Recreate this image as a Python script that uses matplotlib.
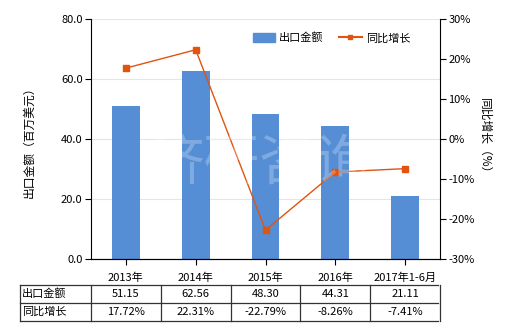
import matplotlib
matplotlib.use("Agg")
import matplotlib.pyplot as plt
from matplotlib.transforms import blended_transform_factory
from matplotlib.lines import Line2D

plt.rcParams['font.family'] = ['Noto Sans CJK SC', 'DejaVu Sans']

categories = ['2013年', '2014年', '2015年', '2016年', '2017年1-6月']
export_values = [51.15, 62.56, 48.30, 44.31, 21.11]
growth_values = [17.72, 22.31, -22.79, -8.26, -7.41]
left_ticks = [0, 20, 40, 60, 80]
right_ticks = [-30, -20, -10, 0, 10, 20, 30]
row_names = ['出口金额', '同比增长']
export_labels = ['51.15', '62.56', '48.30', '44.31', '21.11']
growth_labels = ['17.72%', '22.31%', '-22.79%', '-8.26%', '-7.41%']

bar_color = '#558ED5'
line_color = '#E0540F'

fig = plt.figure(figsize=(5.2, 3.3), dpi=100)
ax = fig.add_axes([91/520, 1-259/330, 349/520, 240/330])
x = list(range(len(categories)))
ax.bar(x, export_values, width=0.4, color=bar_color, zorder=2)
ax.set_xlim(-0.5, len(categories)-0.5)
ax.set_ylim(0, 80)
ax.set_yticks(left_ticks)
ax.set_yticklabels([f'{v:.1f}' for v in left_ticks], fontsize=8)
ax.set_xticks(x)
ax.set_xticklabels(categories, fontsize=8)
ax.grid(axis='y', color='#E6E6E0', linewidth=0.8, zorder=0)
ax.spines['top'].set_visible(False)
ax.spines['right'].set_visible(False)
ax.tick_params(axis='both', length=4, width=0.8, direction='out', pad=2)
ax.tick_params(axis='x', pad=6)
ax.set_ylabel('出口金额（百万美元）', fontsize=8.5, labelpad=18)

ax2 = ax.twinx()
ax2.plot(x, growth_values, color=line_color, linewidth=1.0, marker='s',
         markersize=4.5, zorder=3)
ax2.set_ylim(-30, 30)
ax2.set_yticks(right_ticks)
ax2.set_yticklabels([f'{v}%' for v in right_ticks], fontsize=8)
ax2.spines['top'].set_visible(False)
ax2.spines['left'].set_visible(False)
ax2.tick_params(axis='y', length=4, width=0.8, direction='out', pad=2)
ax2.set_ylabel('同比增长（%）', fontsize=8.5, rotation=-90, labelpad=12)

# watermark
fig.text(0.5, 0.5, '济研咨询', fontsize=40, color='white', alpha=0.25,
         ha='center', va='center', zorder=5)

handles = [plt.Rectangle((0, 0), 1, 1, color=bar_color),
           Line2D([0], [0], color=line_color, marker='s', markersize=3.5, linewidth=1.5)]
ax2.legend(handles, ['出口金额', '同比增长'], loc='upper right', frameon=False,
           fontsize=8, ncol=2, bbox_to_anchor=(0.944, 0.985), handlelength=2.0,
           handleheight=0.95, columnspacing=1.4, handletextpad=0.4)

# table
tr = blended_transform_factory(ax.transData, fig.transFigure)
ftr = fig.transFigure
y_top, y_mid, y_bot = 1-285/330, 1-303/330, 1-321/330
x_left = 20/520
lc = '#333333'
for yy in (y_top, y_mid, y_bot):
    fig.add_artist(Line2D([x_left, 438/520], [yy, yy], transform=ftr, color=lc, linewidth=0.9))
fig.add_artist(Line2D([x_left, x_left], [y_top, y_bot], transform=ftr, color=lc, linewidth=0.9))
for b in [i - 0.5 for i in range(len(categories)+1)]:
    fig.add_artist(Line2D([b, b], [y_top, y_bot], transform=tr, color=lc, linewidth=0.9))
for r, (name, labels) in enumerate(zip(row_names, [export_labels, growth_labels])):
    yc = (y_top + y_mid)/2 if r == 0 else (y_mid + y_bot)/2
    fig.text(x_left + 2/520, yc, name, fontsize=8, va='center', ha='left')
    for i, lab in enumerate(labels):
        fig.text(i, yc, lab, transform=tr, fontsize=8, va='center', ha='center')

fig.savefig('out.png', dpi=100)
